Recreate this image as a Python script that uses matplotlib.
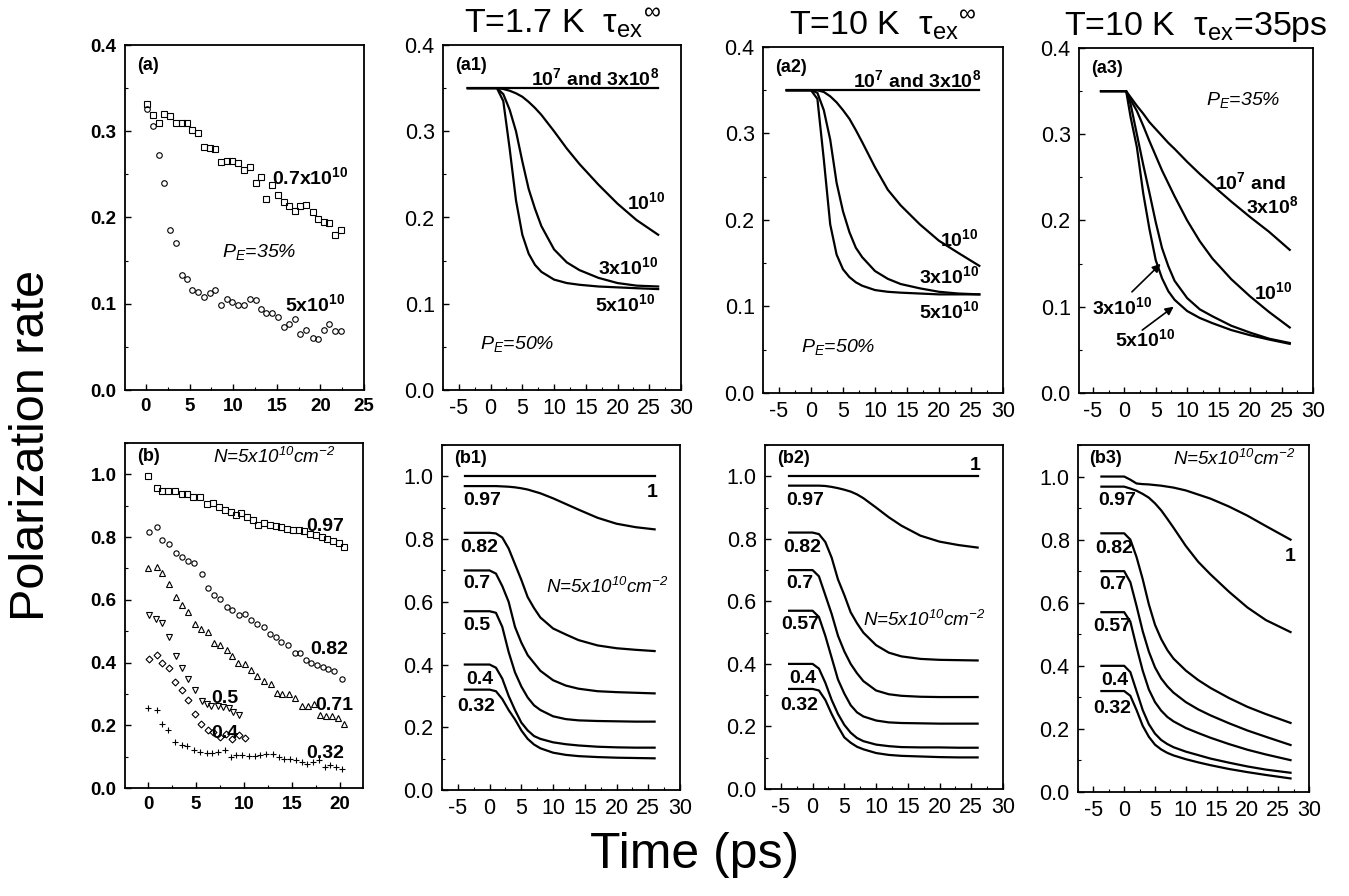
import numpy as np
import matplotlib.pyplot as plt
from matplotlib.ticker import MultipleLocator

plt.rcParams['font.family'] = ['Liberation Sans', 'DejaVu Sans']
plt.rcParams['mathtext.fontset'] = 'custom'
plt.rcParams['mathtext.rm'] = 'Liberation Sans'
plt.rcParams['mathtext.it'] = 'Liberation Sans:italic'
plt.rcParams['mathtext.bf'] = 'Liberation Sans:bold'
plt.rcParams['mathtext.default'] = 'regular'
plt.rcParams['axes.unicode_minus'] = False

# ==========================================================
# Measured data, panel (a): two densities
# ==========================================================
t_a = [0.1, 0.8, 1.5, 2.1, 2.8, 3.4, 4.1, 4.7, 5.3, 6.0, 6.6, 7.3, 7.9, 8.6, 9.3,
       9.9, 10.6, 11.2, 11.9, 12.6, 13.2, 13.8, 14.5, 15.1, 15.8, 16.4, 17.1, 17.7,
       18.4, 19.1, 19.7, 20.4, 21.0, 21.7, 22.4]
pol_a_07e10 = [0.332, 0.319, 0.310, 0.320, 0.318, 0.310, 0.309, 0.310, 0.301, 0.298,
               0.282, 0.280, 0.279, 0.264, 0.265, 0.265, 0.263, 0.255, 0.258, 0.240,
               0.247, 0.222, 0.238, 0.226, 0.218, 0.213, 0.207, 0.213, 0.215, 0.206,
               0.198, 0.195, 0.194, 0.180, 0.186]
pol_a_5e10 = [0.326, 0.306, 0.272, 0.240, 0.185, 0.171, 0.133, 0.129, 0.116, 0.114,
              0.108, 0.112, 0.116, 0.099, 0.106, 0.102, 0.099, 0.099, 0.106, 0.104,
              0.094, 0.089, 0.089, 0.085, 0.073, 0.077, 0.082, 0.065, 0.069, 0.060,
              0.059, 0.070, 0.076, 0.068, 0.068]

# ==========================================================
# Measured data, panel (b): several initial polarizations
# ==========================================================
t_b097 = [0, 0.9, 1.5, 2.1, 2.8, 3.5, 4.1, 4.7, 5.4, 6.1, 6.8, 7.4, 8.0, 8.6, 9.2,
          9.7, 10.3, 10.9, 11.5, 12.1, 12.7, 13.3, 13.9, 14.5, 15.1, 15.7, 16.3,
          16.9, 17.5, 18.1, 18.7, 19.3, 19.9, 20.4]
pol_b097 = [0.996, 0.958, 0.948, 0.948, 0.947, 0.937, 0.936, 0.929, 0.927, 0.907,
            0.910, 0.897, 0.886, 0.881, 0.870, 0.876, 0.863, 0.854, 0.840, 0.845,
            0.840, 0.836, 0.832, 0.826, 0.822, 0.824, 0.818, 0.810, 0.806, 0.800,
            0.795, 0.786, 0.780, 0.767]
t_b082 = [0.1, 0.9, 1.5, 2.2, 2.9, 3.5, 4.2, 4.8, 5.6, 6.2, 6.9, 7.5, 8.2, 8.8, 9.5,
          10.1, 10.7, 11.4, 12.1, 12.7, 13.3, 13.9, 14.6, 15.3, 15.8, 16.5, 17.0,
          17.6, 18.2, 18.8, 19.4, 20.2]
pol_b082 = [0.817, 0.831, 0.790, 0.778, 0.748, 0.737, 0.724, 0.716, 0.681, 0.639,
            0.615, 0.604, 0.578, 0.567, 0.551, 0.554, 0.537, 0.522, 0.512, 0.490,
            0.482, 0.466, 0.455, 0.429, 0.429, 0.407, 0.397, 0.391, 0.386, 0.381,
            0.373, 0.349]
t_b071 = [0, 0.9, 1.5, 2.2, 2.9, 3.5, 4.2, 4.9, 5.5, 6.2, 6.9, 7.5, 8.2, 8.8, 9.4,
          10.1, 10.7, 11.4, 12.1, 12.8, 13.4, 14.0, 14.7, 15.3, 16.0, 16.7, 17.3,
          17.9, 18.5, 19.2, 19.8, 20.4]
pol_b071 = [0.703, 0.705, 0.686, 0.650, 0.610, 0.583, 0.562, 0.524, 0.506, 0.496,
            0.463, 0.457, 0.441, 0.420, 0.397, 0.395, 0.376, 0.356, 0.341, 0.331,
            0.303, 0.301, 0.301, 0.288, 0.262, 0.263, 0.268, 0.232, 0.229, 0.229,
            0.224, 0.205]
t_b05 = [0.1, 0.8, 1.5, 2.2, 2.9, 3.5, 4.2, 4.9, 5.6, 6.1, 6.6, 7.3, 7.8, 8.4, 8.9, 9.5]
pol_b05 = [0.551, 0.540, 0.527, 0.482, 0.420, 0.384, 0.349, 0.314, 0.278, 0.267,
           0.263, 0.263, 0.259, 0.256, 0.243, 0.232]
t_b04 = [0.1, 0.9, 1.5, 2.2, 2.8, 3.5, 4.2, 4.9, 5.5, 6.2, 6.8, 7.5, 8.1, 8.8, 9.5, 10.1]
pol_b04 = [0.410, 0.423, 0.397, 0.384, 0.338, 0.314, 0.282, 0.237, 0.205, 0.186,
           0.179, 0.163, 0.173, 0.157, 0.168, 0.161]
t_b032 = [0, 0.9, 1.5, 2.1, 2.8, 3.5, 4.1, 4.8, 5.4, 6.1, 6.7, 7.3, 8.0, 8.6, 9.2,
          9.8, 10.5, 11.1, 11.7, 12.3, 13.0, 13.6, 14.2, 14.8, 15.4, 16.0, 16.6,
          17.2, 17.8, 18.4, 19.0, 19.6, 20.2]
pol_b032 = [0.256, 0.248, 0.205, 0.184, 0.147, 0.136, 0.133, 0.120, 0.115, 0.112,
            0.112, 0.115, 0.120, 0.099, 0.104, 0.104, 0.101, 0.101, 0.104, 0.107,
            0.107, 0.099, 0.094, 0.094, 0.088, 0.083, 0.078, 0.083, 0.088, 0.067,
            0.072, 0.067, 0.062]

# ==========================================================
# Simulations, top row (different densities)
# ==========================================================
t_a1 = [-3.6, 0, 1, 2, 3, 4, 5, 6, 7, 8, 10, 12, 14, 17, 20, 23, 26.4]
a1_low = [0.35] * 17
a1_1e10 = [0.35, 0.35, 0.35, 0.349, 0.347, 0.344, 0.340, 0.334, 0.327, 0.319,
           0.300, 0.280, 0.262, 0.238, 0.216, 0.197, 0.180]
a1_3e10 = [0.35, 0.35, 0.35, 0.343, 0.325, 0.300, 0.265, 0.233, 0.210, 0.190,
           0.163, 0.148, 0.139, 0.130, 0.124, 0.121, 0.120]
a1_5e10 = [0.35, 0.35, 0.35, 0.335, 0.280, 0.220, 0.180, 0.158, 0.145, 0.137,
           0.128, 0.124, 0.122, 0.120, 0.119, 0.118, 0.117]

t_a2 = [-3.8, 0, 1, 2, 3, 4, 5, 6, 7, 8, 10, 12, 14, 17, 20, 23, 26.3]
a2_low = [0.35] * 17
a2_1e10 = [0.35, 0.35, 0.35, 0.348, 0.343, 0.336, 0.327, 0.317, 0.304, 0.290,
           0.261, 0.235, 0.217, 0.195, 0.176, 0.162, 0.147]
a2_3e10 = [0.35, 0.35, 0.347, 0.327, 0.293, 0.243, 0.210, 0.186, 0.168, 0.157,
           0.141, 0.132, 0.126, 0.121, 0.117, 0.115, 0.114]
a2_5e10 = [0.35, 0.35, 0.340, 0.270, 0.195, 0.160, 0.143, 0.134, 0.128, 0.124,
           0.119, 0.117, 0.116, 0.115, 0.114, 0.114, 0.114]

t_a3 = [-3.7, 0.3, 1, 2, 3, 4, 5, 6, 7, 8, 10, 12, 14, 17, 20, 23, 26.3]
a3_low = [0.35, 0.35, 0.343, 0.333, 0.324, 0.314, 0.306, 0.298, 0.290, 0.283,
          0.268, 0.254, 0.241, 0.222, 0.204, 0.187, 0.166]
a3_1e10 = [0.35, 0.35, 0.340, 0.327, 0.310, 0.292, 0.275, 0.258, 0.243, 0.228,
           0.200, 0.176, 0.156, 0.132, 0.112, 0.094, 0.076]
a3_3e10 = [0.35, 0.35, 0.335, 0.300, 0.265, 0.232, 0.198, 0.168, 0.147, 0.130,
           0.110, 0.097, 0.089, 0.078, 0.070, 0.063, 0.058]
a3_5e10 = [0.35, 0.35, 0.320, 0.285, 0.232, 0.190, 0.154, 0.133, 0.118, 0.108,
           0.095, 0.087, 0.081, 0.073, 0.067, 0.062, 0.057]

# ==========================================================
# Simulations, bottom row (different initial polarization)
# ==========================================================
t_b1 = [-3.9, 0, 1, 2, 3, 4, 5, 6, 7, 8, 10, 12, 14, 17, 20, 23, 26]
b1_curves = [
    [1.0] * 17,
    [0.969, 0.969, 0.969, 0.968, 0.967, 0.965, 0.962, 0.958, 0.952, 0.946,
     0.930, 0.912, 0.894, 0.868, 0.849, 0.838, 0.831],
    [0.82, 0.82, 0.818, 0.805, 0.77, 0.72, 0.67, 0.615, 0.58, 0.55,
     0.515, 0.496, 0.478, 0.461, 0.452, 0.447, 0.443],
    [0.70, 0.70, 0.69, 0.65, 0.60, 0.52, 0.47, 0.43, 0.405, 0.38,
     0.35, 0.333, 0.323, 0.315, 0.312, 0.31, 0.308],
    [0.57, 0.57, 0.565, 0.52, 0.44, 0.375, 0.33, 0.295, 0.27, 0.255,
     0.235, 0.226, 0.222, 0.22, 0.219, 0.218, 0.218],
    [0.40, 0.40, 0.39, 0.355, 0.30, 0.255, 0.215, 0.19, 0.172, 0.163,
     0.152, 0.146, 0.142, 0.138, 0.136, 0.135, 0.135],
    [0.32, 0.32, 0.315, 0.29, 0.255, 0.225, 0.19, 0.163, 0.145, 0.133,
     0.119, 0.112, 0.108, 0.105, 0.103, 0.102, 0.101],
]

t_b2 = [-3.7, 0, 1, 2, 3, 4, 5, 6, 7, 8, 10, 12, 14, 17, 20, 23, 26]
b2_curves = [
    [1.0] * 17,
    [0.97, 0.97, 0.97, 0.969, 0.966, 0.962, 0.957, 0.951, 0.942, 0.930,
     0.900, 0.869, 0.842, 0.810, 0.791, 0.780, 0.772],
    [0.82, 0.82, 0.815, 0.79, 0.74, 0.67, 0.62, 0.565, 0.53, 0.50,
     0.46, 0.436, 0.424, 0.416, 0.413, 0.412, 0.411],
    [0.70, 0.70, 0.68, 0.62, 0.56, 0.49, 0.44, 0.40, 0.37, 0.345,
     0.315, 0.303, 0.298, 0.295, 0.294, 0.294, 0.294],
    [0.57, 0.57, 0.55, 0.49, 0.42, 0.35, 0.305, 0.268, 0.245, 0.232,
     0.219, 0.213, 0.211, 0.21, 0.209, 0.209, 0.209],
    [0.40, 0.40, 0.385, 0.34, 0.285, 0.24, 0.205, 0.18, 0.163, 0.153,
     0.142, 0.137, 0.134, 0.133, 0.133, 0.132, 0.132],
    [0.32, 0.32, 0.315, 0.285, 0.24, 0.20, 0.165, 0.148, 0.135, 0.127,
     0.115, 0.109, 0.106, 0.104, 0.102, 0.101, 0.101],
]

t_b3 = [-3.7, 0, 1, 2, 3, 4, 5, 6, 7, 8, 10, 12, 14, 17, 20, 23, 27]
b3_curves = [
    [1.0, 1.0, 0.99, 0.978, 0.976, 0.975, 0.973, 0.971, 0.968, 0.965,
     0.956, 0.943, 0.930, 0.905, 0.876, 0.843, 0.80],
    [0.968, 0.968, 0.962, 0.955, 0.945, 0.933, 0.915, 0.893, 0.866, 0.838,
     0.78, 0.73, 0.69, 0.635, 0.585, 0.545, 0.507],
    [0.82, 0.82, 0.80, 0.745, 0.675, 0.595, 0.53, 0.485, 0.45, 0.423,
     0.385, 0.355, 0.33, 0.298, 0.27, 0.247, 0.219],
    [0.70, 0.70, 0.665, 0.59, 0.51, 0.445, 0.395, 0.36, 0.335, 0.315,
     0.285, 0.262, 0.243, 0.218, 0.195, 0.175, 0.149],
    [0.57, 0.57, 0.54, 0.46, 0.385, 0.325, 0.285, 0.258, 0.238, 0.224,
     0.203, 0.187, 0.172, 0.152, 0.134, 0.119, 0.101],
    [0.40, 0.40, 0.38, 0.32, 0.26, 0.215, 0.185, 0.165, 0.152, 0.142,
     0.128, 0.117, 0.106, 0.093, 0.081, 0.071, 0.061],
    [0.32, 0.32, 0.305, 0.26, 0.21, 0.175, 0.15, 0.135, 0.124, 0.116,
     0.104, 0.094, 0.085, 0.073, 0.063, 0.054, 0.043],
]

titles = [r"T=1.7 K  $\tau_{ex}{}^{\infty}$", r"T=10 K  $\tau_{ex}{}^{\infty}$",
          r"T=10 K  $\tau_{ex}$=35ps"]

# ==========================================================
# Figure and axes (pixel boxes -> figure fractions)
# ==========================================================
W, H = 1349, 896
fig = plt.figure(figsize=(W / 100, H / 100), dpi=100)


def box(l, r, t, b):
    return [l / W, 1 - b / H, (r - l) / W, (b - t) / H]


ax_a = fig.add_axes(box(125, 364, 45, 390))
ax_b = fig.add_axes(box(125, 363, 443, 788))
ax_a1 = fig.add_axes(box(443, 681, 45, 390))
ax_a2 = fig.add_axes(box(763, 1003, 47, 393))
ax_a3 = fig.add_axes(box(1079, 1313, 48, 393))
ax_b1 = fig.add_axes(box(442, 680, 445, 790))
ax_b2 = fig.add_axes(box(765, 1003, 445, 789))
ax_b3 = fig.add_axes(box(1078, 1309, 445, 792))

LW = 1.6
BFS = 14
TAG = 13


def style(ax, xlim, ylim, xmaj, ymaj, bold=False):
    ax.set_xlim(*xlim)
    ax.set_ylim(*ylim)
    ax.xaxis.set_major_locator(MultipleLocator(xmaj))
    ax.xaxis.set_minor_locator(MultipleLocator(xmaj / 2))
    ax.yaxis.set_major_locator(MultipleLocator(ymaj))
    ax.yaxis.set_minor_locator(MultipleLocator(ymaj / 2))
    ax.tick_params(which='both', direction='in', top=False, right=False)
    ax.tick_params(which='major', length=4, width=1.0, pad=6)
    ax.tick_params(which='minor', length=2.5, width=0.8)
    for s in ax.spines.values():
        s.set_linewidth(1.3)
    ax.yaxis.set_major_formatter(plt.FormatStrFormatter('%.1f'))
    for lab in ax.get_xticklabels() + ax.get_yticklabels():
        lab.set_fontsize(13.5 if bold else 15.5)
        if bold:
            lab.set_fontweight('bold')


# ---- panel (a)
ax_a.plot(t_a, pol_a_07e10, 's', ms=4, mfc='none', mec='black', mew=0.8)
ax_a.plot(t_a, pol_a_5e10, 'o', ms=4, mfc='none', mec='black', mew=0.8)
style(ax_a, (-2.4, 25), (0, 0.4), 5, 0.1, bold=True)
ax_a.text(0.05, 0.965, "(a)", transform=ax_a.transAxes, fontsize=TAG,
          fontweight='bold', va='top')
ax_a.text(14.4, 0.247, "0.7x$10^{10}$", fontsize=BFS, fontweight='bold', va='center')
ax_a.text(8.7, 0.16, "$P_E$=35%", fontsize=BFS, style='italic', va='center')
ax_a.text(15.9, 0.10, "5x$10^{10}$", fontsize=BFS, fontweight='bold', va='center')

# ---- panel (b)
mk = dict(mfc='none', mec='black', mew=0.8, ls='none')
ax_b.plot(t_b097, pol_b097, 's', ms=3.8, **mk)
ax_b.plot(t_b082, pol_b082, 'o', ms=3.8, **mk)
ax_b.plot(t_b071, pol_b071, '^', ms=4, **mk)
ax_b.plot(t_b05, pol_b05, 'v', ms=4, **mk)
ax_b.plot(t_b04, pol_b04, 'D', ms=3.5, **mk)
ax_b.plot(t_b032, pol_b032, '+', ms=4.5, **mk)
style(ax_b, (-2.4, 22.4), (0, 1.1), 5, 0.2, bold=True)
ax_b.text(0.05, 0.985, "(b)", transform=ax_b.transAxes, fontsize=TAG,
          fontweight='bold', va='top')
ax_b.text(6.8, 1.055, "N=5x$10^{10}$cm$^{-2}$", fontsize=13.5, style='italic', va='center')
ax_b.text(16.5, 0.833, "0.97", fontsize=BFS, fontweight='bold', va='center')
ax_b.text(16.9, 0.44, "0.82", fontsize=BFS, fontweight='bold', va='center')
ax_b.text(17.4, 0.264, "0.71", fontsize=BFS, fontweight='bold', va='center')
ax_b.text(6.6, 0.285, "0.5", fontsize=BFS, fontweight='bold', va='center')
ax_b.text(6.6, 0.173, "0.4", fontsize=BFS, fontweight='bold', va='center')
ax_b.text(16.5, 0.11, "0.32", fontsize=BFS, fontweight='bold', va='center')

# ---- panels (a1), (a2)
for ax, t, low, c1, c3, c5, tag, pos in [
        (ax_a1, t_a1, a1_low, a1_1e10, a1_3e10, a1_5e10, "(a1)",
         [(21.5, 0.218), (17.0, 0.143), (16.4, 0.10)]),
        (ax_a2, t_a2, a2_low, a2_1e10, a2_3e10, a2_5e10, "(a2)",
         [(20.2, 0.178), (16.8, 0.135), (16.8, 0.095)])]:
    for y in (low, c1, c3, c5):
        ax.plot(t, y, color='black', lw=LW)
    style(ax, (-7.5, 30), (0, 0.4), 5, 0.1)
    ax.text(0.05, 0.965, tag, transform=ax.transAxes, fontsize=TAG,
            fontweight='bold', va='top')
    ax.text(26.6, 0.362, "$10^7$ and 3x$10^8$", fontsize=BFS, fontweight='bold',
            ha='right', va='center')
    ax.text(pos[0][0], pos[0][1], "$10^{10}$", fontsize=BFS, fontweight='bold', va='center')
    ax.text(pos[1][0], pos[1][1], "3x$10^{10}$", fontsize=BFS, fontweight='bold', va='center')
    ax.text(pos[2][0], pos[2][1], "5x$10^{10}$", fontsize=BFS, fontweight='bold', va='center')
    ax.text(-1.6, 0.053, "$P_E$=50%", fontsize=BFS, style='italic', va='center')

# ---- panel (a3)
for y in (a3_low, a3_1e10, a3_3e10, a3_5e10):
    ax_a3.plot(t_a3, y, color='black', lw=LW)
style(ax_a3, (-7.2, 30), (0, 0.4), 5, 0.1)
ax_a3.text(0.05, 0.965, "(a3)", transform=ax_a3.transAxes, fontsize=TAG,
           fontweight='bold', va='top')
ax_a3.text(13.0, 0.34, "$P_E$=35%", fontsize=BFS, style='italic', va='center')
ax_a3.text(14.4, 0.245, "$10^7$ and", fontsize=BFS, fontweight='bold', va='center')
ax_a3.text(19.4, 0.217, "3x$10^8$", fontsize=BFS, fontweight='bold', va='center')
ax_a3.text(20.7, 0.117, "$10^{10}$", fontsize=BFS, fontweight='bold', va='center')
ax_a3.text(-5.2, 0.099, "3x$10^{10}$", fontsize=BFS, fontweight='bold', va='center')
ax_a3.text(-1.5, 0.063, "5x$10^{10}$", fontsize=BFS, fontweight='bold', va='center')
arr = dict(arrowstyle='-|>', color='black', lw=1.2, mutation_scale=12)
ax_a3.annotate('', xy=(6.1, 0.152), xytext=(0.9, 0.115), arrowprops=arr)
ax_a3.annotate('', xy=(8.2, 0.102), xytext=(2.5, 0.071), arrowprops=arr)

# ---- bottom simulation panels
b_labels = {
    ax_b1: ["0.97", "0.82", "0.7", "0.5", "0.4", "0.32"],
    ax_b2: ["0.97", "0.82", "0.7", "0.57", "0.4", "0.32"],
    ax_b3: ["0.97", "0.82", "0.7", "0.57", "0.4", "0.32"],
}
lab_y = [0.924, 0.772, 0.658, 0.526, 0.352, 0.266]
lab_x = [-4.2, -4.7, -4.1, -4.1, -3.7, -5.1]
for ax, t, curves, tag in [(ax_b1, t_b1, b1_curves, "(b1)"),
                           (ax_b2, t_b2, b2_curves, "(b2)"),
                           (ax_b3, t_b3, b3_curves, "(b3)")]:
    for y in curves:
        ax.plot(t, y, color='black', lw=LW)
    style(ax, (-7.5, 30), (0, 1.1), 5, 0.2)
    ax.text(0.05, 0.985, tag, transform=ax.transAxes, fontsize=TAG,
            fontweight='bold', va='top')
    labs = b_labels[ax]
    for s, xx, yy in zip(labs, lab_x, lab_y):
        if ax is not ax_b1 and s == "0.57":
            xx = -5.0
        ax.text(xx, yy, s, fontsize=BFS, fontweight='bold', va='center')

ax_b1.text(24.7, 0.95, "1", fontsize=BFS, fontweight='bold', va='center')
ax_b1.text(8.9, 0.647, "N=5x$10^{10}$cm$^{-2}$", fontsize=13.5, style='italic', va='center')
ax_b2.text(24.7, 1.035, "1", fontsize=BFS, fontweight='bold', va='center')
ax_b2.text(7.9, 0.54, "N=5x$10^{10}$cm$^{-2}$", fontsize=13.5, style='italic', va='center')
ax_b3.text(26.0, 0.747, "1", fontsize=BFS, fontweight='bold', va='center')
ax_b3.text(7.9, 1.057, "N=5x$10^{10}$cm$^{-2}$", fontsize=13.5, style='italic', va='center')

# ---- column titles and shared labels
for ax, ttl in zip([ax_a1, ax_a2, ax_a3], titles):
    ax.set_title(ttl, fontsize=24.5, pad=9)

fig.text(32 / W, 1 - 445 / H, "Polarization rate", fontsize=35, rotation=90,
         ha='center', va='center')
fig.text(695 / W, 1 - 855 / H, "Time (ps)", fontsize=36, ha='center', va='center')

fig.savefig("out.png", dpi=100)
